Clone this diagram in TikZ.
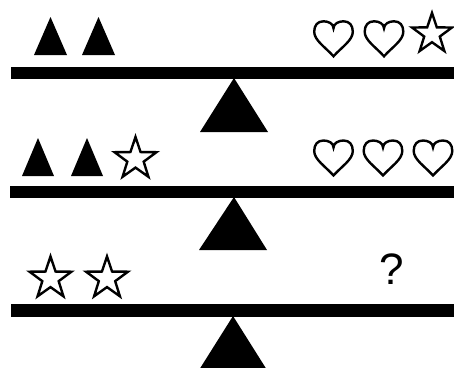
\documentclass[tikz,border=0pt]{standalone}
\usepackage{fontspec}
\setmainfont{Liberation Sans}
\begin{document}
\begin{tikzpicture}[x=1pt,y=-1pt,
  sym/.style={draw=black,line width=2.4pt,fill=white},
  starsym/.style={sym,line join=miter,miter limit=10},
  solid/.style={fill=black,draw=none},
  heart/.pic={
    \draw[sym] (0,7) .. controls (0,2.5) and (-5,0) .. (-10,0)
      .. controls (-16,0) and (-19.3,4) .. (-19.3,10.5)
      .. controls (-19.3,19) and (-8,26) .. (0,35)
      .. controls (8,26) and (19.3,19) .. (19.3,10.5)
      .. controls (19.3,4) and (16,0) .. (10,0)
      .. controls (5,0) and (0,2.5) .. (0,7) -- cycle;
  }]
\useasboundingbox (0,0) rectangle (454,367);
\clip (0,0) rectangle (454,367);
\fill[white] (0,0) rectangle (454,367);
% beams
\fill[solid] (11,67) rectangle (460,79);
\fill[solid] (10,186) rectangle (460,198);
\fill[solid] (11,304) rectangle (460,317);
% fulcrums
\fill[solid] (234,78) -- (268,132) -- (200,132) -- cycle;
\fill[solid] (234,197) -- (267,250) -- (199,250) -- cycle;
\fill[solid] (233,316) -- (267,370) -- (199,370) -- cycle;
% row 1
\fill[solid] (50.5,17) -- (67,55) -- (34,55) -- cycle;
\fill[solid] (98.5,17) -- (115,55) -- (82,55) -- cycle;
\pic at (333.5,21.3) {heart};
\pic at (384,21.3) {heart};
\draw[starsym] (432,34) +(270:21) \foreach \k in {1,...,9}{ -- +({270+36*\k}:{ifthenelse(mod(\k,2)==1,8.2,21)})} -- cycle;
% row 2
\fill[solid] (38,138) -- (54,176) -- (22,176) -- cycle;
\fill[solid] (87,138) -- (103,176) -- (71,176) -- cycle;
\draw[starsym] (135.5,159) +(270:22) \foreach \k in {1,...,9}{ -- +({270+36*\k}:{ifthenelse(mod(\k,2)==1,8.6,22)})} -- cycle;
\pic at (333.5,140.5) {heart};
\pic at (383,140.5) {heart};
\pic at (433,140.5) {heart};
% row 3
\draw[starsym] (50.5,278.5) +(270:22) \foreach \k in {1,...,9}{ -- +({270+36*\k}:{ifthenelse(mod(\k,2)==1,8.6,22)})} -- cycle;
\draw[starsym] (107,278.5) +(270:22) \foreach \k in {1,...,9}{ -- +({270+36*\k}:{ifthenelse(mod(\k,2)==1,8.6,22)})} -- cycle;
\node[anchor=base,inner sep=0pt,font=\fontsize{44}{44}\selectfont] (q) at (392,284) {?};
\end{tikzpicture}
\end{document}
